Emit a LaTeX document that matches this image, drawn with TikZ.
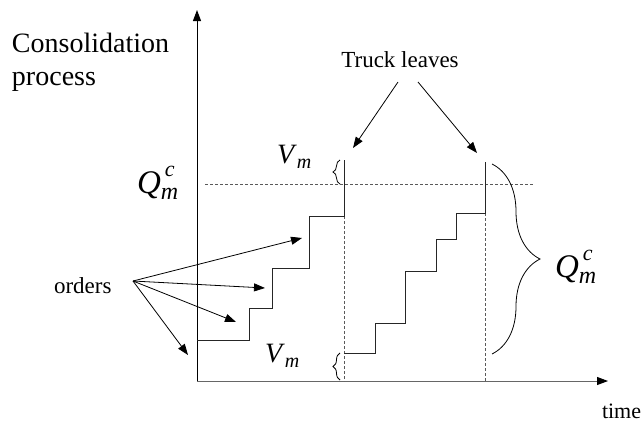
\documentclass[tikz,border=0pt]{standalone}
\usepackage{fontspec}
\setmainfont{Liberation Serif}
\usetikzlibrary{arrows.meta,decorations.pathreplacing}
\newcommand\Qmc{\fontsize{33}{33}\selectfont\textit{Q}\makebox[0pt][l]{\kern4pt\raisebox{17pt}{\fontsize{22}{22}\selectfont\textit{c}}}\raisebox{-6pt}{\fontsize{24}{24}\selectfont\textit{m}}}
\newcommand\Vmlbl{\fontsize{28}{28}\selectfont\textit{V}\raisebox{-5pt}{\fontsize{20}{20}\selectfont\textit{m}}}
\begin{document}
\begin{tikzpicture}[x=1pt,y=-1pt,
  tipstyle/.style={-{Triangle[length=11pt,width=8pt,color=black]}},
  axisline/.style={line width=1pt, tipstyle},
  stair/.style={line width=0.9pt, draw=black!85},
  guide/.style={dash pattern=on 3pt off 2pt, draw=black!65, line width=0.8pt},
  pointer/.style={line width=0.8pt, tipstyle},
  bracestyle/.style={decorate, line width=0.8pt},
  lbl/.style={inner sep=0pt, outer sep=0pt}
]
\useasboundingbox (0,0) rectangle (642,424);

% axes
\coordinate (O) at (197,381);
\coordinate (ytop) at (197,10);
\coordinate (xend) at (608,381);
\draw[axisline, draw=black] (O) -- (ytop);
\draw[axisline, draw=black!60] (O) -- (xend);

% dashed guides
\coordinate (hq1) at (205,184);
\coordinate (hq2) at (533,184);
\draw[guide] (hq1) -- (hq2);
\draw[guide] (344,216) -- (344,381);
\draw[guide] (485,213) -- (485,381);

% staircases
\draw[stair] (197,340) -| (249,308) -| (272,268) -| (309,216) -| (344,160);
\draw[stair] (344,353) -| (375,323) -| (405,271) -| (436,239) -| (456,213) -| (485,162);

% braces
\draw[bracestyle, decoration={brace, amplitude=7pt}] (340,184) -- (340,160);
\draw[bracestyle, decoration={brace, amplitude=7pt}] (340,380) -- (340,353);
\draw[bracestyle, decoration={brace, amplitude=48pt}] (492,164) -- (492,354);

% labels
\node[lbl, anchor=base west, font=\fontsize{28}{33}\selectfont] (cons) at (12,52) {Consolidation};
\node[lbl, anchor=base west, font=\fontsize{28}{33}\selectfont] (proc) at (12,85) {process};
\node[lbl, anchor=base west] (qleft) at (137,193) {\Qmc};
\node[lbl, anchor=base west] (qright) at (555,277) {\Qmc};
\node[lbl, anchor=base west] (vtop) at (277,163) {\Vmlbl};
\node[lbl, anchor=base west] (vbot) at (265,362) {\Vmlbl};
\node[lbl, anchor=base, font=\fontsize{23}{23}\selectfont] (truck) at (400,67) {Truck leaves};
\node[lbl, anchor=base west, font=\fontsize{23}{23}\selectfont] (orders) at (54,293) {orders};
\node[lbl, anchor=base west, font=\fontsize{22}{22}\selectfont] (timelbl) at (602,418) {time};

% truck leaves arrows
\coordinate (ts1) at (398,82);
\coordinate (ts2) at (418,82);
\coordinate (tt1) at (353,148);
\coordinate (tt2) at (477,153);
\draw[pointer] (ts1) -- (tt1);
\draw[pointer] (ts2) -- (tt2);

% orders arrows
\coordinate (osrc) at (133,281);
\coordinate (ot1) at (302,238);
\coordinate (ot2) at (265,288);
\coordinate (ot3) at (236,322);
\coordinate (ot4) at (188,355);
\draw[pointer] (osrc) -- (ot1);
\draw[pointer] (osrc) -- (ot2);
\draw[pointer] (osrc) -- (ot3);
\draw[pointer] (osrc) -- (ot4);
\end{tikzpicture}
\end{document}
